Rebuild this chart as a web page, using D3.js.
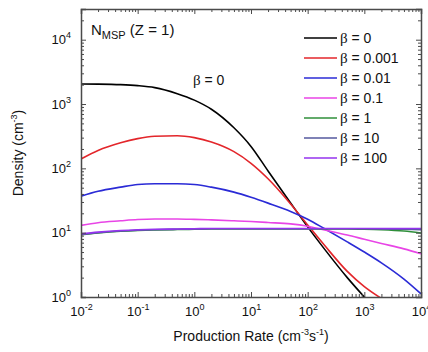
<!DOCTYPE html>
<html><head><meta charset="utf-8">
<script src="https://cdn.jsdelivr.net/npm/d3@7/dist/d3.min.js"></script>
<style>
body{margin:0;background:#fff;}
svg{display:block;font-family:"Liberation Sans",Arial,sans-serif;}
</style></head>
<body><svg id="c" width="428" height="352"></svg>
<script>
// production rate (cm^-3 s^-1)
const rates = [0.01, 0.02, 0.05, 0.1, 0.2, 0.5, 1, 2, 5, 10, 20, 50, 100, 200, 500, 1000, 2000, 5000, 10000];
const betaLabels = ["0", "0.001", "0.01", "0.1", "1", "10", "100"];
const colors = ["#000000", "#e3262b", "#2b2bd6", "#e845e6", "#2f8f3a", "#55589e", "#9433ee"];
const density = [
  [2050, 2040, 2000, 1930, 1800, 1450, 1150, 830, 427, 219, 91, 29, 12.3, 5.5, 2.0, 1.0, 0.52, 0.23, 0.13],
  [140, 190, 250, 290, 315, 322, 300, 257, 182, 120, 69, 28, 13.2, 6.3, 2.5, 1.45, 0.95, 0.6, 0.45],
  [37, 44, 51, 56, 57.5, 57.5, 56, 51, 42.7, 35.5, 28.8, 21.4, 16.2, 11.5, 7.2, 5.0, 3.4, 1.9, 1.12],
  [13, 14.3, 15.3, 16, 16.3, 16.3, 16.1, 15.8, 15.3, 14.9, 14.4, 13.7, 12.6, 11.0, 9.2, 7.9, 6.8, 5.6, 4.7],
  [9.3, 9.9, 10.5, 10.8, 11.0, 11.2, 11.3, 11.4, 11.4, 11.4, 11.4, 11.4, 11.4, 11.4, 11.4, 11.3, 11.1, 10.6, 9.9],
  [9.4, 10.0, 10.6, 10.9, 11.1, 11.3, 11.4, 11.5, 11.5, 11.5, 11.5, 11.5, 11.5, 11.5, 11.5, 11.5, 11.4, 11.3, 11.1],
  [9.6, 10.2, 10.8, 11.1, 11.3, 11.4, 11.5, 11.6, 11.6, 11.6, 11.6, 11.6, 11.6, 11.6, 11.6, 11.6, 11.6, 11.6, 11.6]
];
const xTicks = [0.01, 0.1, 1, 10, 100, 1000, 10000];
const yTicks = [1, 10, 100, 1000, 10000];
const xDomain = [0.01, 10000];
const yDomain = [1, 30000];

(function(){
const W = 428, H = 352;
const m = {l: 81, r: 7, t: 9, b: 55};
const svg = d3.select("#c");
const x = d3.scaleLog().domain(xDomain).range([m.l, W - m.r]);
const y = d3.scaleLog().domain(yDomain).range([H - m.b, m.t]);
const frame = "#4a4a4a";

function minors(dom) {
  const out = [];
  for (let e = Math.floor(Math.log10(dom[0])); e <= Math.ceil(Math.log10(dom[1])); e++) {
    for (let k = 2; k <= 9; k++) { const v = k * Math.pow(10, e); if (v > dom[0] && v < dom[1]) out.push(v); }
  }
  return out;
}
const supFmt = function(sel) {
  sel.each(function(d) {
    const t = d3.select(this); const e = Math.round(Math.log10(d));
    t.text(null);
    t.append("tspan").text("10");
    t.append("tspan").attr("dy", -6).attr("font-size", "9px").text(e);
  });
};

svg.append("clipPath").attr("id", "pa").append("rect")
  .attr("x", m.l).attr("y", m.t).attr("width", W - m.l - m.r).attr("height", H - m.t - m.b);

// lines
const line = d3.line().x((d, i) => x(rates[i])).y(d => y(d)).curve(d3.curveMonotoneX);
const g = svg.append("g").attr("clip-path", "url(#pa)");
density.forEach((s, i) => {
  g.append("path").attr("d", line(s)).attr("fill", "none").attr("stroke", colors[i]).attr("stroke-width", 1.6);
});

// axes
function styleAxis(a) {
  a.select(".domain").attr("stroke", frame).attr("stroke-width", 1.5);
  a.selectAll(".tick line").attr("stroke", frame).attr("stroke-width", 1);
}
const bot = svg.append("g").attr("transform", `translate(0,${H - m.b})`)
  .call(d3.axisBottom(x).tickValues(xTicks).tickSize(-5).tickPadding(10).tickFormat(d => d));
styleAxis(bot);
bot.selectAll(".tick text").attr("font-size", "13px").attr("fill", "#111").attr("font-family", "Liberation Sans, Arial, sans-serif").call(supFmt);
const botm = svg.append("g").attr("transform", `translate(0,${H - m.b})`)
  .call(d3.axisBottom(x).tickValues(minors(xDomain)).tickSize(-3).tickFormat(""));
styleAxis(botm); botm.select(".domain").remove();

const topA = svg.append("g").attr("transform", `translate(0,${m.t})`)
  .call(d3.axisTop(x).tickValues(xTicks).tickSize(-5).tickFormat(""));
styleAxis(topA);
const topm = svg.append("g").attr("transform", `translate(0,${m.t})`)
  .call(d3.axisTop(x).tickValues(minors(xDomain)).tickSize(-3).tickFormat(""));
styleAxis(topm); topm.select(".domain").remove();

const leftA = svg.append("g").attr("transform", `translate(${m.l},0)`)
  .call(d3.axisLeft(y).tickValues(yTicks).tickSize(-5).tickPadding(10).tickFormat(d => d));
styleAxis(leftA);
leftA.selectAll(".tick text").attr("font-size", "13px").attr("fill", "#111").attr("font-family", "Liberation Sans, Arial, sans-serif").call(supFmt);
const leftm = svg.append("g").attr("transform", `translate(${m.l},0)`)
  .call(d3.axisLeft(y).tickValues(minors(yDomain)).tickSize(-3).tickFormat(""));
styleAxis(leftm); leftm.select(".domain").remove();

const rightA = svg.append("g").attr("transform", `translate(${W - m.r},0)`)
  .call(d3.axisRight(y).tickValues(yTicks).tickSize(-5).tickFormat(""));
styleAxis(rightA);
const rightm = svg.append("g").attr("transform", `translate(${W - m.r},0)`)
  .call(d3.axisRight(y).tickValues(minors(yDomain)).tickSize(-3).tickFormat(""));
styleAxis(rightm); rightm.select(".domain").remove();

// axis titles
const xt = svg.append("text").attr("x", (m.l + W - m.r) / 2).attr("y", 341).attr("text-anchor", "middle")
  .attr("font-size", "14px").attr("fill", "#111");
xt.append("tspan").text("Production Rate (cm");
xt.append("tspan").attr("dy", -6).attr("font-size", "9px").text("-3");
xt.append("tspan").attr("dy", 6).text("s");
xt.append("tspan").attr("dy", -6).attr("font-size", "9px").text("-1");
xt.append("tspan").attr("dy", 6).text(")");

const yt = svg.append("text").attr("transform", `translate(23,${(m.t + H - m.b) / 2}) rotate(-90)`)
  .attr("text-anchor", "middle").attr("font-size", "14px").attr("fill", "#111");
yt.append("tspan").text("Density (cm");
yt.append("tspan").attr("dy", -6).attr("font-size", "9px").text("-3");
yt.append("tspan").attr("dy", 6).text(")");

// panel label
const pl = svg.append("text").attr("x", 91).attr("y", 35).attr("font-size", "15px").attr("fill", "#111");
pl.append("tspan").text("N");
pl.append("tspan").attr("dy", 4).attr("font-size", "11px").text("MSP");
pl.append("tspan").attr("dy", -4).text(" (Z = 1)");

// beta = 0 annotation
const an = svg.append("text").attr("x", 193).attr("y", 85).attr("font-size", "14px").attr("fill", "#111");
an.append("tspan").attr("font-family", "Liberation Serif, serif").attr("font-size", "15px").text("β");
an.append("tspan").text(" = 0");

// legend
const lg = svg.append("g");
betaLabels.forEach((b, i) => {
  const yy = 38 + i * 20;
  lg.append("line").attr("x1", 304).attr("x2", 337).attr("y1", yy).attr("y2", yy)
    .attr("stroke", colors[i]).attr("stroke-width", 1.5);
  const t = lg.append("text").attr("x", 340).attr("y", yy + 5).attr("font-size", "14px").attr("fill", "#111");
  t.append("tspan").attr("font-family", "Liberation Serif, serif").attr("font-size", "15px").text("β");
  t.append("tspan").text(" = " + b);
});
})();
</script></body></html>
